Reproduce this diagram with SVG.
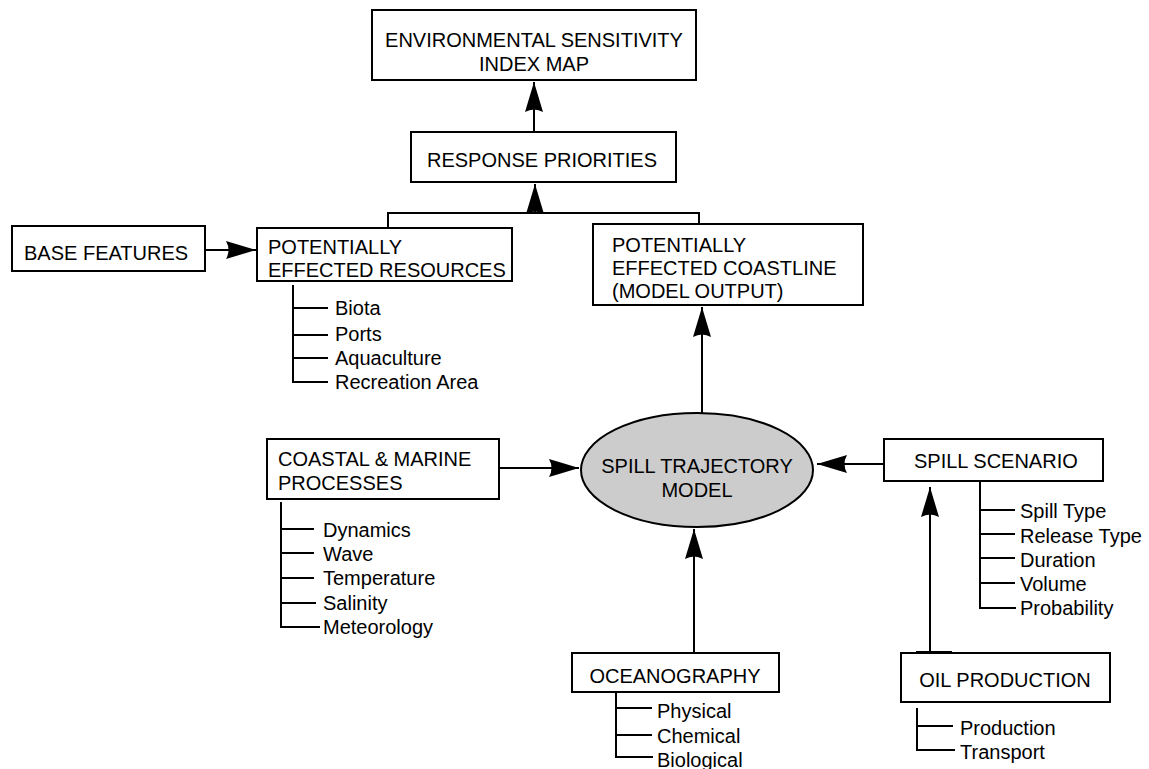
<svg xmlns="http://www.w3.org/2000/svg" width="1149" height="769" viewBox="0 0 1149 769">
<style>
.box{fill:#fff;stroke:#000;stroke-width:2}
.t{font-family:"Liberation Sans",Arial,sans-serif;font-size:20px;fill:#000}
.c{text-anchor:middle}
.ln{fill:none;stroke:#000;stroke-width:2}
.ar{fill:none;stroke:#000;stroke-width:2;marker-end:url(#ah)}
</style>
<defs>
<marker id="ah" markerUnits="userSpaceOnUse" markerWidth="31" markerHeight="18" refX="30" refY="9" orient="auto">
<path d="M0,0 L30,9 L0,18 Q5,9 0,0 Z" fill="#000"/>
</marker>
</defs>
<rect width="1149" height="769" fill="#fff"/>
<g id="connectors">
<line class="ar" x1="534" y1="132" x2="534" y2="82"/>
<polyline class="ln" points="388,228 388,213 699,213 699,224"/>
<line class="ar" x1="535" y1="214" x2="535" y2="184"/>
<line class="ar" x1="205" y1="250" x2="256" y2="250"/>
<line class="ar" x1="702" y1="413" x2="702" y2="307"/>
<line class="ar" x1="499" y1="468" x2="579" y2="468"/>
<line class="ar" x1="884" y1="464" x2="817" y2="464"/>
<line class="ar" x1="694" y1="653" x2="694" y2="529"/>
<line class="ar" x1="930" y1="653" x2="930" y2="487"/>
<line x1="916" y1="652" x2="952" y2="652" stroke="#000" stroke-width="2"/>
</g>
<g id="esi"><rect class="box" x="372" y="10" width="324" height="70"/>
<text class="t c" x="534" y="47">ENVIRONMENTAL SENSITIVITY</text>
<text class="t c" x="534" y="71">INDEX MAP</text></g>
<g id="response"><rect class="box" x="411" y="132" width="265" height="50"/>
<text class="t c" x="542" y="167">RESPONSE PRIORITIES</text></g>
<g id="base"><rect class="box" x="12" y="226" width="193" height="45"/>
<text class="t" x="24" y="260">BASE FEATURES</text></g>
<g id="resources"><rect class="box" x="257" y="228" width="255" height="53"/>
<text class="t" x="268" y="254">POTENTIALLY</text>
<text class="t" x="268" y="277">EFFECTED RESOURCES</text>
<polyline class="ln" points="293,285 293,382 328,382"/>
<line class="ln" x1="293" y1="308" x2="328" y2="308"/>
<line class="ln" x1="293" y1="335" x2="328" y2="335"/>
<line class="ln" x1="293" y1="358" x2="328" y2="358"/>
<text class="t" x="335" y="315">Biota</text>
<text class="t" x="335" y="341">Ports</text>
<text class="t" x="335" y="365">Aquaculture</text>
<text class="t" x="335" y="389">Recreation Area</text></g>
<g id="coastline"><rect class="box" x="593" y="224" width="270" height="81"/>
<text class="t" x="612" y="252">POTENTIALLY</text>
<text class="t" x="612" y="275">EFFECTED COASTLINE</text>
<text class="t" x="612" y="298">(MODEL OUTPUT)</text></g>
<g id="model"><ellipse cx="697" cy="470" rx="116" ry="57" fill="#cccccc" stroke="#000" stroke-width="2"/>
<text class="t c" x="697" y="473">SPILL TRAJECTORY</text>
<text class="t c" x="697" y="497">MODEL</text></g>
<g id="coastal"><rect class="box" x="267" y="439" width="232" height="60"/>
<text class="t" x="278" y="466">COASTAL &amp; MARINE</text>
<text class="t" x="278" y="490">PROCESSES</text>
<polyline class="ln" points="281,502 281,627 320,627"/>
<line class="ln" x1="281" y1="529" x2="314" y2="529"/>
<line class="ln" x1="281" y1="553" x2="314" y2="553"/>
<line class="ln" x1="281" y1="578" x2="314" y2="578"/>
<line class="ln" x1="281" y1="603" x2="316" y2="603"/>
<text class="t" x="323" y="537">Dynamics</text>
<text class="t" x="323" y="561">Wave</text>
<text class="t" x="323" y="585">Temperature</text>
<text class="t" x="323" y="610">Salinity</text>
<text class="t" x="323" y="634">Meteorology</text></g>
<g id="scenario"><rect class="box" x="884" y="439" width="219" height="42"/>
<text class="t" x="914" y="468">SPILL SCENARIO</text>
<polyline class="ln" points="980,481 980,608 1016,608"/>
<line class="ln" x1="979" y1="510" x2="1015" y2="510"/>
<line class="ln" x1="980" y1="534" x2="1015" y2="534"/>
<line class="ln" x1="980" y1="558" x2="1015" y2="558"/>
<line class="ln" x1="980" y1="583" x2="1015" y2="583"/>
<text class="t" x="1020" y="518">Spill Type</text>
<text class="t" x="1020" y="543">Release Type</text>
<text class="t" x="1020" y="567">Duration</text>
<text class="t" x="1020" y="591">Volume</text>
<text class="t" x="1020" y="615">Probability</text></g>
<g id="oceanography"><rect class="box" x="572" y="653" width="207" height="39"/>
<text class="t c" x="675" y="683">OCEANOGRAPHY</text>
<polyline class="ln" points="616,692 616,757 653,757"/>
<line class="ln" x1="616" y1="708" x2="652" y2="708"/>
<line class="ln" x1="616" y1="735" x2="652" y2="735"/>
<text class="t" x="657" y="718">Physical</text>
<text class="t" x="657" y="743">Chemical</text>
<text class="t" x="657" y="767">Biological</text></g>
<g id="oil"><rect class="box" x="901" y="653" width="209" height="49"/>
<text class="t c" x="1005" y="687">OIL PRODUCTION</text>
<polyline class="ln" points="917,708 917,750 955,750"/>
<line class="ln" x1="917" y1="726" x2="953" y2="726"/>
<text class="t" x="960" y="735">Production</text>
<text class="t" x="960" y="759">Transport</text></g>
</svg>
